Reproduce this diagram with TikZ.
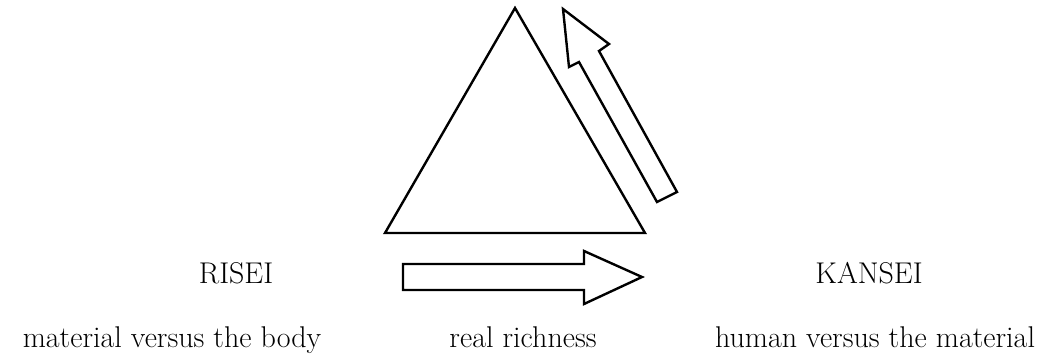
\documentclass[tikz,border=0pt]{standalone}
\usepackage{fontspec}
\begin{document}
\begin{tikzpicture}[x=1pt,y=-1pt,
  shape line/.style={draw=black,line width=2.4pt,line join=miter,fill=white},
  lbl/.style={inner sep=0pt,anchor=base,font=\fontsize{30}{36}\selectfont}]
\useasboundingbox (0,0) rectangle (1054,354);
% triangle
\draw[shape line] (515,8) -- (645,233) -- (385,233) -- cycle;
% tilted arrow
\draw[shape line] (563,9) -- (609,44) -- (599,51) -- (677,192) -- (657,202) -- (579,62) -- (569,67) -- cycle;
% horizontal arrow
\draw[shape line] (403,264) -- (584,264) -- (584,251) -- (642,277) -- (584,304) -- (584,290) -- (403,290) -- cycle;
% labels
\node[lbl] (risei) at (236,283) {RISEI};
\node[lbl] (kansei) at (869,283) {KANSEI};
\node[lbl] (mat) at (172,347) {material versus the body};
\node[lbl] (rich) at (523,347) {real richness};
\node[lbl] (hum) at (875,347) {human versus the material};
\end{tikzpicture}
\end{document}
